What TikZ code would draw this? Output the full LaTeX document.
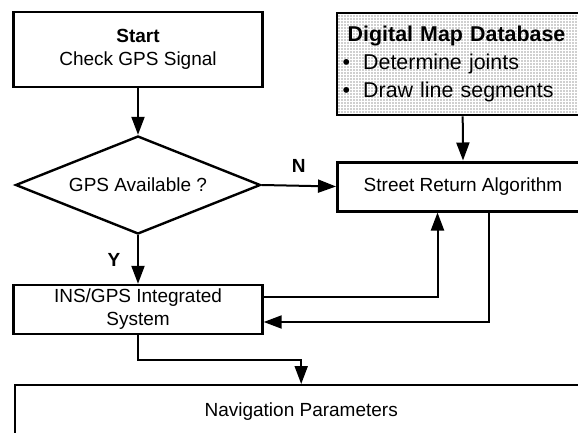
\documentclass[tikz,border=0pt]{standalone}
\usepackage{fontspec}
\setmainfont{Liberation Sans}
\usetikzlibrary{arrows.meta, shapes.geometric, patterns.meta}

\tikzset{
  block/.style={draw, line width=1.2pt, minimum width=124.5pt, minimum height=24.5pt,
    inner sep=0pt, align=center, font=\fontsize{9.5}{11.5}\selectfont},
  flow/.style={-{Triangle[length=9pt, width=6.5pt]}, line width=1pt},
  lbl/.style={font=\bfseries\fontsize{9.5}{11.5}\selectfont}
}

\begin{document}
\begin{tikzpicture}[x=0.5pt, y=-0.5pt]
  \useasboundingbox (0,0) rectangle (578,433);

  % Start
  \node[block, minimum height=37.5pt] (start) at (138,49.5) {\textbf{Start}\\Check GPS Signal};

  % Decision
  \node[diamond, aspect=2.5, draw, line width=1.2pt, minimum width=122.5pt, minimum height=49pt,
    inner sep=0pt, font=\fontsize{9.5}{11.5}\selectfont] (gps) at (138,185) {GPS Available ?};

  % Map database
  \node[draw, line width=1.2pt, anchor=north west, text width=120pt, inner xsep=2.75pt,
    inner ysep=0pt, minimum height=51pt, align=left,
    pattern={Dots[distance=1.5pt, radius=0.35pt]}, pattern color=black!80,
    font=\fontsize{10.7}{14}\selectfont] (map) at (336,12)
    {\hspace*{2.5pt}\textbf{Digital Map Database}\\
     \textbullet\hspace{6.5pt}Determine joints\\
     \textbullet\hspace{6.5pt}Draw line segments};

  % Street return
  \node[block, line width=1.5pt, anchor=north west, minimum width=125.5pt] (sra) at (336,160.5)
    {Street Return Algorithm};

  % INS/GPS
  \node[block] (ins) at (138,309.5) {INS/GPS Integrated\\System};

  % Navigation
  \node[block, anchor=north west, minimum width=286pt, minimum height=26pt] (nav) at (14,384)
    {Navigation Parameters};

  % Connectors
  \draw[flow] (start.south) -- (gps.north);
  \draw[flow] (gps.east) -- (sra.west) node[midway, above=3pt, lbl] {N};
  \draw[flow] (gps.south) -- (ins.north) node[midway, left=5pt, lbl] {Y};
  \draw[flow] (map.south) -- (sra.north);
  \draw[flow] ([yshift=6.25pt]ins.east) -| ([xshift=-12.75pt]sra.south);
  \draw[flow] ([xshift=12.75pt]sra.south) |- ([yshift=-6.25pt]ins.east);
  \draw[flow] (ins.south) -- ++(0,25) -| (nav.north);

\end{tikzpicture}
\end{document}
